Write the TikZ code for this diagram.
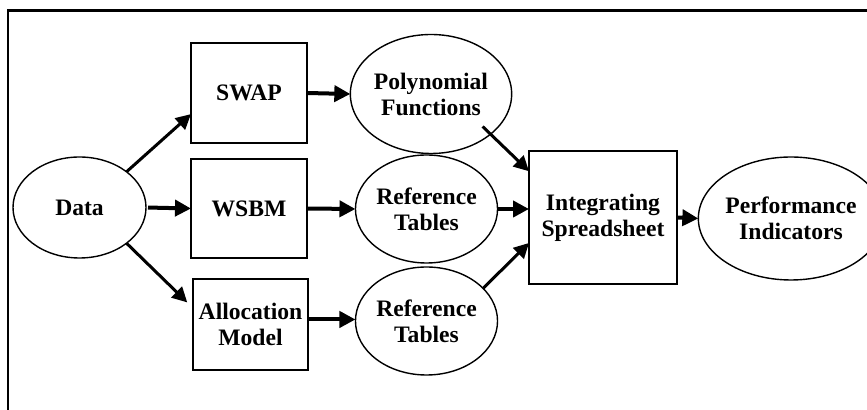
\documentclass[tikz,border=0pt]{standalone}
\usepackage{fontspec}
\setmainfont{Liberation Serif}
\usetikzlibrary{arrows.meta, shapes.geometric}

\begin{document}
\begin{tikzpicture}[x=0.5pt, y=-0.5pt,
                        every node/.style={font=\bfseries\fontsize{11.8}{13}\selectfont, align=center, inner sep=0pt, outer sep=0pt},
                        box/.style={rectangle, draw, line width=0.8pt},
                        blob/.style={ellipse, draw, line width=0.7pt},
                        feed/.style={-{Triangle[length=8pt, width=8pt]}, line width=2pt},
                        slant/.style={-{Triangle[length=7.5pt, width=7.5pt]}, line width=1.5pt}]
                        \useasboundingbox (0, 0) rectangle (867, 410);
                        \draw[line width=1.3pt] (8, 410) -- (8, 10.5) -- (867, 10.5);

                        \node (data) at (79.5, 207.5) [blob, minimum width=66.5pt, minimum height=50.5pt] {Data};
                        \node (swap) at (249, 93) [box, minimum width=58pt, minimum height=50pt] {SWAP};
                        \node (wsbm) at (249, 208.5) [box, minimum width=58pt, minimum height=49.5pt] {WSBM};
                        \node (alloc) at (250.5, 324.5) [box, minimum width=57.5pt, minimum height=45.5pt] {Allocation\\Model};
                        \node (poly) at (431, 94) [blob, minimum width=71pt, minimum height=59.5pt] {Polynomial\\Functions};
                        \node (ref1) at (426.5, 209) [blob, minimum width=65.5pt, minimum height=54pt] {Reference\\Tables};
                        \node (ref2) at (426.5, 321) [blob, minimum width=65.5pt, minimum height=54pt] {Reference\\Tables};
                        \node (integ) at (603, 217.5) [box, minimum width=74pt, minimum height=66.5pt] {Integrating\\Spreadsheet};
                        \node (perf) at (791, 218.5) [blob, minimum width=75pt, minimum height=61.5pt] {Performance\\Indicators};

                        \draw[slant] (data.north east) -- (swap.200);
                        \draw[feed, shorten <=1pt] (data.east) -- (wsbm.west);
                        \draw[slant, shorten >=4pt] (data.south east) -- (alloc.164);

                        \draw[feed] (swap.east) -- (poly.west);
                        \draw[feed] (wsbm.east) -- (ref1.west);
                        \draw[feed] (alloc.5) -- (alloc.5 -| ref2.west);

                        \draw[slant, shorten <=-5.5pt] (poly.-34) -- (integ.148);
                        \draw[feed] (ref1.east) -- (ref1.east -| integ.west);
                        \draw[slant] (ref2.30) -- (integ.199);

                        \draw[feed] (integ.east) -- (perf.west);
                    \end{tikzpicture}
\end{document}
